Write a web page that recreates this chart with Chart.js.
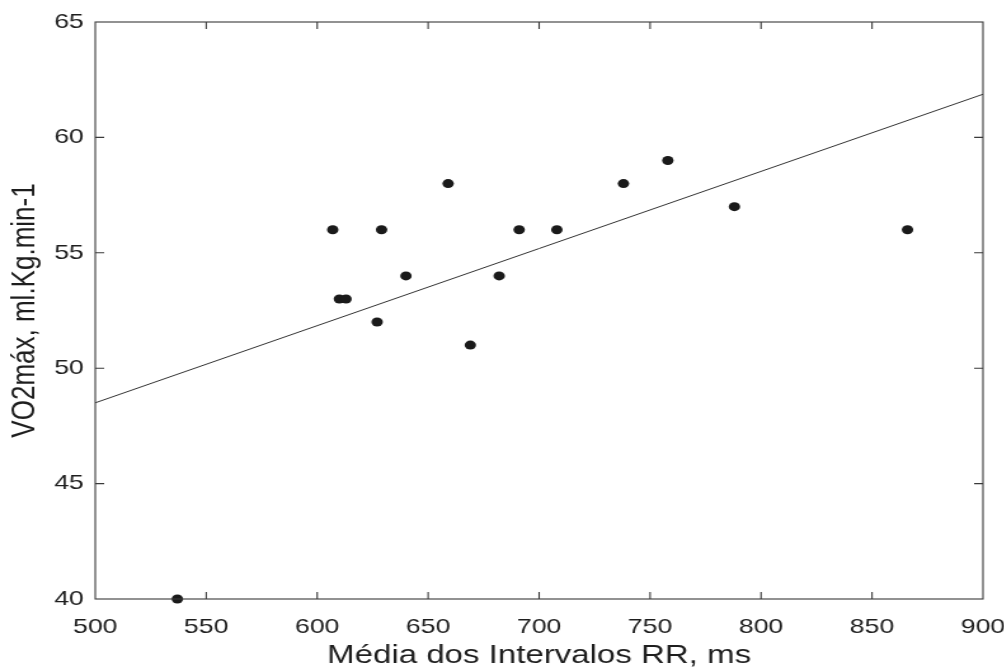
<!DOCTYPE html>
<html>
<head>
<meta charset="utf-8">
<script src="https://cdn.jsdelivr.net/npm/chart.js@4.4.1/dist/chart.umd.min.js"></script>
<style>
  html, body { margin: 0; padding: 0; background: #fff; overflow: hidden; }
  /* the figure is a bit wider than tall, so the chart is drawn narrower and stretched */
  #wrap { width: 791px; height: 671px; transform: scaleX(1.27); transform-origin: 0 0; }
</style>
</head>
<body>
<div id="wrap"><canvas id="chart"></canvas></div>
<script>
// RR medio (ms) x VO2max
const rrValues  = [537, 607, 610, 613, 627, 629, 640, 659, 669, 682, 691, 708, 738, 758, 788, 866];
const vo2Values = [40,  56,  53,  53,  52,  56,  54,  58,  51,  54,  56,  56,  58,  59,  57,  56];

// reta de regressao (extremos do eixo)
const fitX = [500, 900];
const fitY = [48.5, 61.87];

const xTicks = [500, 550, 600, 650, 700, 750, 800, 850, 900];
const yTicks = [40, 45, 50, 55, 60, 65];

const axisColor = '#3a3a3a';
const textColor = '#1e1e1e';

// caixa e marcas de escala para dentro (estilo matlab)
const boxPlugin = {
    id: 'boxTicks',
    afterDatasetsDraw(chart) {
        const { ctx, chartArea: a, scales } = chart;
        const len = 7;
        ctx.save();
        ctx.strokeStyle = axisColor;
        ctx.lineWidth = 1.1;
        ctx.strokeRect(a.left, a.top, a.right - a.left, a.bottom - a.top);
        ctx.beginPath();
        xTicks.slice(1, -1).forEach(v => {
            const px = scales.x.getPixelForValue(v);
            ctx.moveTo(px, a.bottom); ctx.lineTo(px, a.bottom - len);
            ctx.moveTo(px, a.top); ctx.lineTo(px, a.top + len);
        });
        yTicks.slice(1, -1).forEach(v => {
            const py = scales.y.getPixelForValue(v);
            ctx.moveTo(a.left, py); ctx.lineTo(a.left + len, py);
            ctx.moveTo(a.right, py); ctx.lineTo(a.right - len, py);
        });
        ctx.stroke();
        ctx.restore();
    }
};

const ctx = document.getElementById('chart').getContext('2d');
new Chart(ctx, {
    type: 'scatter',
    data: {
        datasets: [
            {
                label: 'VO2max',
                data: rrValues.map((x, i) => ({ x: x, y: vo2Values[i] })),
                backgroundColor: '#1a1a1a',
                borderWidth: 0,
                pointRadius: 4.5,
                clip: false,
                order: 1
            },
            {
                type: 'line',
                label: 'ajuste',
                data: fitX.map((x, i) => ({ x: x, y: fitY[i] })),
                borderColor: '#333',
                borderWidth: 1,
                pointRadius: 0,
                fill: false,
                order: 2
            }
        ]
    },
    options: {
        responsive: true,
        maintainAspectRatio: false,
        animation: false,
        layout: { padding: { top: 22, right: 17, left: 0, bottom: 0 } },
        plugins: {
            legend: { display: false },
            tooltip: { enabled: false }
        },
        scales: {
            x: {
                type: 'linear',
                min: 500,
                max: 900,
                afterFit: s => { s.height = 72; s.paddingLeft = 0; s.paddingRight = 0; },
                afterBuildTicks: s => { s.ticks = xTicks.map(v => ({ value: v })); },
                grid: { display: false, drawTicks: false },
                border: { display: false },
                ticks: {
                    padding: 16,
                    color: textColor,
                    maxRotation: 0,
                    font: { family: 'Liberation Sans, Arial', size: 21 }
                },
                title: {
                    display: true,
                    text: 'Média dos Intervalos RR, ms',
                    color: textColor,
                    padding: { top: 0, bottom: 0 },
                    font: { family: 'Liberation Sans, Arial', size: 26 }
                }
            },
            y: {
                type: 'linear',
                min: 40,
                max: 65,
                afterFit: s => { s.width = 75; s.paddingTop = 0; s.paddingBottom = 0; },
                afterBuildTicks: s => { s.ticks = yTicks.map(v => ({ value: v })); },
                grid: { display: false, drawTicks: false },
                border: { display: false },
                ticks: {
                    padding: 9,
                    color: textColor,
                    font: { family: 'Liberation Sans, Arial', size: 21 }
                },
                title: {
                    display: true,
                    text: 'VO2máx, ml.Kg.min-1',
                    color: textColor,
                    padding: { top: 4, bottom: 0 },
                    font: { family: 'Liberation Sans, Arial', size: 26 }
                }
            }
        }
    },
    plugins: [boxPlugin]
});
</script>
</body>
</html>
